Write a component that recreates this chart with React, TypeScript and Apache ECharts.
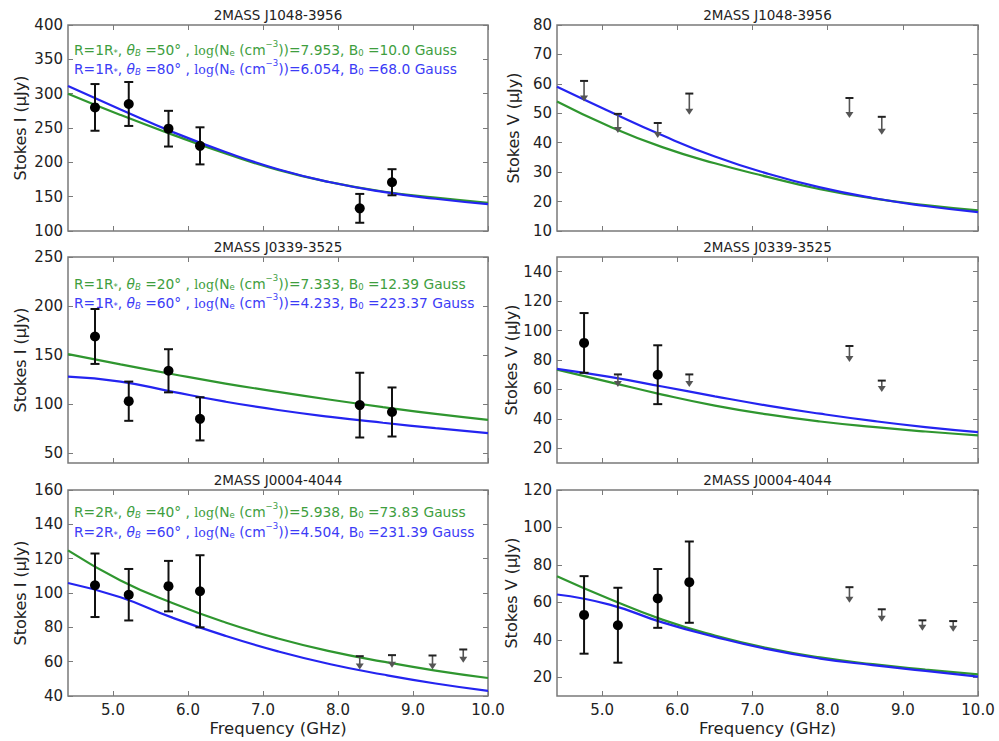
import React, { useEffect, useRef } from "react";
import * as echarts from "echarts";

// ---------------- data ----------------
const FREQ_GRID = [4.4, 5.1, 5.8, 6.5, 7.2, 7.9, 8.6, 9.3, 10.0];
const X_TICKS = [5, 6, 7, 8, 9, 10];
const TITLES = ["2MASS J1048-3956", "2MASS J0339-3525", "2MASS J0004-4044"];
const Y_NAMES = ["Stokes I (μJy)", "Stokes V (μJy)"];
const X_NAME = "Frequency (GHz)";

// J1048-3956
const J1048_I_RANGE = [100, 400];
const J1048_I_TICKS = [100, 150, 200, 250, 300, 350, 400];
const J1048_I_GREEN = [300, 269, 240, 213, 189, 171, 157.5, 148.5, 141];
const J1048_I_BLUE = [311, 277, 244, 215, 190, 171, 157, 147, 139];
const J1048_I_DET = [[4.76, 280, 34], [5.21, 285, 32], [5.74, 249, 26], [6.16, 224, 27], [8.29, 133, 21], [8.72, 171, 19]];
const J1048_V_RANGE = [10, 80];
const J1048_V_TICKS = [10, 20, 30, 40, 50, 60, 70, 80];
const J1048_V_GREEN = [54, 45.5, 38.5, 33, 28.4, 24.2, 21.1, 18.8, 17];
const J1048_V_BLUE = [59, 50.6, 42.5, 35.3, 29.5, 24.8, 21.2, 18.5, 16.4];
const J1048_V_LIM = [[4.76, 61, 54], [5.21, 49.8, 43.3], [5.74, 46.7, 41.6], [6.16, 56.7, 49.5], [8.29, 55.2, 48.4], [8.72, 48.8, 42.7]];

// J0339-3525
const J0339_I_RANGE = [40, 250];
const J0339_I_TICKS = [50, 100, 150, 200, 250];
const J0339_I_GREEN = [151, 140.5, 130.5, 121, 112.5, 104.5, 97, 90, 84];
const J0339_I_BLUE = [128, 123, 112.5, 102.5, 94, 87, 81, 75.5, 70.5];
const J0339_I_DET = [[4.76, 169, 28], [5.21, 103, 20], [5.74, 134, 22], [6.16, 85, 22], [8.29, 99, 33], [8.72, 92, 25]];
const J0339_V_RANGE = [10, 150];
const J0339_V_TICKS = [20, 40, 60, 80, 100, 120, 140];
const J0339_V_GREEN = [73.5, 65, 56.5, 49, 43, 38.2, 34.5, 31.4, 28.8];
const J0339_V_BLUE = [74, 68.5, 62, 55.3, 49, 43.5, 38.6, 34.4, 31];
const J0339_V_DET = [[4.76, 91.6, 20.3], [5.74, 70, 20]];
const J0339_V_LIM = [[5.21, 70.2, 61.6], [6.16, 70.2, 61.6], [8.29, 89.5, 78.6], [8.72, 66, 58.2]];

// J0004-4044
const J0004_I_RANGE = [40, 160];
const J0004_I_TICKS = [40, 60, 80, 100, 120, 140, 160];
const J0004_I_GREEN = [124.8, 107.3, 94, 82.8, 73.5, 66, 60, 54.8, 50.5];
const J0004_I_BLUE = [105.8, 97.5, 85.5, 75, 66, 58.5, 52.5, 47.3, 43];
const J0004_I_DET = [[4.76, 104.5, 18.5], [5.21, 99, 15], [5.74, 104, 14.7], [6.16, 101, 21]];
const J0004_I_LIM = [[8.29, 63.2, 55.5], [8.72, 63.8, 56.5], [9.26, 63.6, 55.5], [9.67, 67.1, 59.4]];
const J0004_V_RANGE = [10, 120];
const J0004_V_TICKS = [20, 40, 60, 80, 100, 120];
const J0004_V_GREEN = [74, 61.8, 50.8, 42.3, 35.6, 30.6, 27, 24.1, 21.5];
const J0004_V_BLUE = [64.2, 58.8, 49.3, 41.6, 35, 30, 26.5, 23.4, 20.3];
const J0004_V_DET = [[4.76, 53.3, 20.7], [5.21, 47.8, 20], [5.74, 62.1, 15.7], [6.16, 70.8, 21.7]];
const J0004_V_LIM = [[8.29, 68.1, 59.8], [8.72, 56.3, 49.7], [9.26, 50.4, 44.8], [9.67, 50, 44.3]];

// model parameter annotations (green, blue) per row
const ANNOT_R = [["1", "1"], ["1", "1"], ["2", "2"]];
const ANNOT_THETA = [["50", "80"], ["20", "60"], ["40", "60"]];
const ANNOT_LOGNE = [["7.953", "6.054"], ["7.333", "4.233"], ["5.938", "4.504"]];
const ANNOT_B0 = [["10.0", "68.0"], ["12.39", "223.37"], ["73.83", "231.39"]];

// ---------------- styles / layout ----------------
const FONT = "DejaVu Sans";
const GREEN = "#2f962f";
const BLUE = "#2424f0";
const GREEN_TXT = "#3e9e3e";
const BLUE_TXT = "#3c3cf6";
const FRAME = "#7a7a7a";
const COL_X = [68, 557];
const PLOT_W = [420, 421];
const ROW_Y = [25, 257, 490];
const PLOT_H = 206;
const ANNOT_DY = [[23, 42], [25, 44], [20, 40]];

function richStyles(color: string) {
  const b = { fill: color, fontFamily: FONT };
  return {
    n: { ...b, fontSize: 13.8, lineHeight: 18, verticalAlign: "bottom" },
    i: { ...b, fontSize: 13.8, lineHeight: 18, verticalAlign: "bottom", fontStyle: "italic" },
    m: { ...b, fontSize: 12.5, lineHeight: 18, verticalAlign: "bottom", fontFamily: "DejaVu Serif" },
    s: { ...b, fontSize: 8.5, lineHeight: 12, verticalAlign: "bottom" },
    si: { ...b, fontSize: 8.5, lineHeight: 12, verticalAlign: "bottom", fontStyle: "italic" },
    p: { ...b, fontSize: 8.5, lineHeight: 14, verticalAlign: "top" },
  };
}

function annotText(r: string, th: string, ne: string, b0: string) {
  return `{n|R=${r}R}{s|*}{n|, }{i|θ}{si|B}{n| =${th}° , }{m|log}{n|(N}{s|e}{n| (cm}{p|−3}{n|))=${ne}, B}{s|0}{n| =${b0} Gauss}`;
}

function renderDet(params: any, api: any) {
  const x = api.value(0);
  const y = api.value(1);
  const e = api.value(2);
  const pc = api.coord([x, y]);
  const pt = api.coord([x, y + e]);
  const pb = api.coord([x, y - e]);
  const cw = 4.5;
  const st = { stroke: "#111", lineWidth: 2 };
  return {
    type: "group",
    children: [
      { type: "line", shape: { x1: pt[0], y1: pt[1], x2: pb[0], y2: pb[1] }, style: st },
      { type: "line", shape: { x1: pt[0] - cw, y1: pt[1], x2: pt[0] + cw, y2: pt[1] }, style: st },
      { type: "line", shape: { x1: pb[0] - cw, y1: pb[1], x2: pb[0] + cw, y2: pb[1] }, style: st },
      { type: "circle", shape: { cx: pc[0], cy: pc[1], r: 5 }, style: { fill: "#000" } },
    ],
  };
}

function renderLim(params: any, api: any) {
  const x = api.value(0);
  const top = api.coord([x, api.value(1)]);
  const bot = api.coord([x, api.value(2)]);
  const cw = 4;
  return {
    type: "group",
    children: [
      { type: "line", shape: { x1: top[0], y1: top[1], x2: bot[0], y2: bot[1] - 4 }, style: { stroke: "#555", lineWidth: 1.6 } },
      { type: "line", shape: { x1: top[0] - cw, y1: top[1], x2: top[0] + cw, y2: top[1] }, style: { stroke: "#222", lineWidth: 2 } },
      {
        type: "polygon",
        shape: { points: [[bot[0] - 4, bot[1] - 6], [bot[0] + 4, bot[1] - 6], [bot[0], bot[1]]] },
        style: { fill: "#555" },
      },
    ],
  };
}

const PANELS = [
  { row: 0, col: 0, range: J1048_I_RANGE, ticks: J1048_I_TICKS, green: J1048_I_GREEN, blue: J1048_I_BLUE, det: J1048_I_DET, lim: [] as number[][] },
  { row: 0, col: 1, range: J1048_V_RANGE, ticks: J1048_V_TICKS, green: J1048_V_GREEN, blue: J1048_V_BLUE, det: [] as number[][], lim: J1048_V_LIM },
  { row: 1, col: 0, range: J0339_I_RANGE, ticks: J0339_I_TICKS, green: J0339_I_GREEN, blue: J0339_I_BLUE, det: J0339_I_DET, lim: [] as number[][] },
  { row: 1, col: 1, range: J0339_V_RANGE, ticks: J0339_V_TICKS, green: J0339_V_GREEN, blue: J0339_V_BLUE, det: J0339_V_DET, lim: J0339_V_LIM },
  { row: 2, col: 0, range: J0004_I_RANGE, ticks: J0004_I_TICKS, green: J0004_I_GREEN, blue: J0004_I_BLUE, det: J0004_I_DET, lim: J0004_I_LIM },
  { row: 2, col: 1, range: J0004_V_RANGE, ticks: J0004_V_TICKS, green: J0004_V_GREEN, blue: J0004_V_BLUE, det: J0004_V_DET, lim: J0004_V_LIM },
];

function buildOption() {
  const grid: any[] = [];
  const xAxis: any[] = [];
  const yAxis: any[] = [];
  const series: any[] = [];
  const graphic: any[] = [];
  const tickStyle = { color: FRAME, width: 1 };

  PANELS.forEach((p, i) => {
    const left = COL_X[p.col];
    const top = ROW_Y[p.row];
    const w = PLOT_W[p.col];
    grid.push({
      left, top, width: w, height: PLOT_H, show: true,
      borderColor: FRAME, borderWidth: 1.5, backgroundColor: "#fff",
    });
    const bottomRow = p.row === 2;
    xAxis.push({
      type: "value", gridIndex: i, min: 4.4, max: 10, position: "bottom",
      axisLine: { show: false },
      splitLine: { show: false },
      axisTick: { show: true, inside: true, length: 5, lineStyle: tickStyle, customValues: X_TICKS },
      axisLabel: {
        show: bottomRow, customValues: X_TICKS, showMaxLabel: true, showMinLabel: true,
        formatter: (v: number) => v.toFixed(1), color: "#222", fontSize: 15, fontFamily: FONT, margin: 6,
      },
      name: bottomRow ? X_NAME : "", nameLocation: "middle", nameGap: 24,
      nameTextStyle: { color: "#222", fontSize: 16.5, fontFamily: FONT },
    });
    xAxis.push({
      type: "value", gridIndex: i, min: 4.4, max: 10, position: "top",
      axisLine: { show: false }, splitLine: { show: false },
      axisTick: { show: true, inside: true, length: 5, lineStyle: tickStyle, customValues: X_TICKS },
      axisLabel: { show: false, customValues: X_TICKS },
    });
    yAxis.push({
      type: "value", gridIndex: i, min: p.range[0], max: p.range[1], position: "left",
      axisLine: { show: false }, splitLine: { show: false },
      axisTick: { show: true, inside: true, length: 5, lineStyle: tickStyle, customValues: p.ticks },
      axisLabel: {
        customValues: p.ticks, showMaxLabel: true, showMinLabel: true,
        color: "#222", fontSize: 15, fontFamily: FONT, margin: 5,
      },
      name: Y_NAMES[p.col], nameLocation: "middle", nameGap: p.col === 0 ? 40 : 36,
      nameTextStyle: { color: "#222", fontSize: 16, fontFamily: FONT },
    });
    yAxis.push({
      type: "value", gridIndex: i, min: p.range[0], max: p.range[1], position: "right",
      axisLine: { show: false }, splitLine: { show: false },
      axisTick: { show: true, inside: true, length: 5, lineStyle: tickStyle, customValues: p.ticks },
      axisLabel: { show: false, customValues: p.ticks },
    });
    const xi = 2 * i;
    const yi = 2 * i;
    series.push({
      type: "line", xAxisIndex: xi, yAxisIndex: yi, smooth: true, showSymbol: false, symbol: "none",
      lineStyle: { color: GREEN, width: 2.2 }, z: 2,
      data: FREQ_GRID.map((f, k) => [f, p.green[k]]),
    });
    series.push({
      type: "line", xAxisIndex: xi, yAxisIndex: yi, smooth: true, showSymbol: false, symbol: "none",
      lineStyle: { color: BLUE, width: 2.2 }, z: 3,
      data: FREQ_GRID.map((f, k) => [f, p.blue[k]]),
    });
    if (p.det.length) {
      series.push({
        type: "custom", xAxisIndex: xi, yAxisIndex: yi, renderItem: renderDet, z: 5,
        data: p.det, clip: false,
      });
    }
    if (p.lim.length) {
      series.push({
        type: "custom", xAxisIndex: xi, yAxisIndex: yi, renderItem: renderLim, z: 5,
        data: p.lim, clip: false,
      });
    }
    graphic.push({
      type: "text", x: left + w / 2, y: top - 10, z: 10,
      style: { text: TITLES[p.row], align: "center", verticalAlign: "middle", fontSize: 13.5, fontFamily: FONT, fill: "#222" },
    });
    if (p.col === 0) {
      const r = p.row;
      [0, 1].forEach((j) => {
        const c = j === 0 ? GREEN_TXT : BLUE_TXT;
        graphic.push({
          type: "text", x: left + 6, y: top + ANNOT_DY[r][j], z: 10,
          style: {
            text: annotText(ANNOT_R[r][j], ANNOT_THETA[r][j], ANNOT_LOGNE[r][j], ANNOT_B0[r][j]),
            rich: richStyles(c), fill: c, align: "left", verticalAlign: "middle", fontSize: 13.8, fontFamily: FONT,
          },
        });
      });
    }
  });

  return { animation: false, backgroundColor: "#fff", grid, xAxis, yAxis, series, graphic };
}

export default function App() {
  const ref = useRef<HTMLDivElement>(null);
  useEffect(() => {
    if (!ref.current) return;
    const chart = echarts.init(ref.current, undefined, { renderer: "svg" });
    chart.setOption(buildOption() as any);
    return () => chart.dispose();
  }, []);
  return <div ref={ref} style={{ position: "fixed", left: 0, top: 0, width: 999, height: 741, background: "#fff" }} />;
}
